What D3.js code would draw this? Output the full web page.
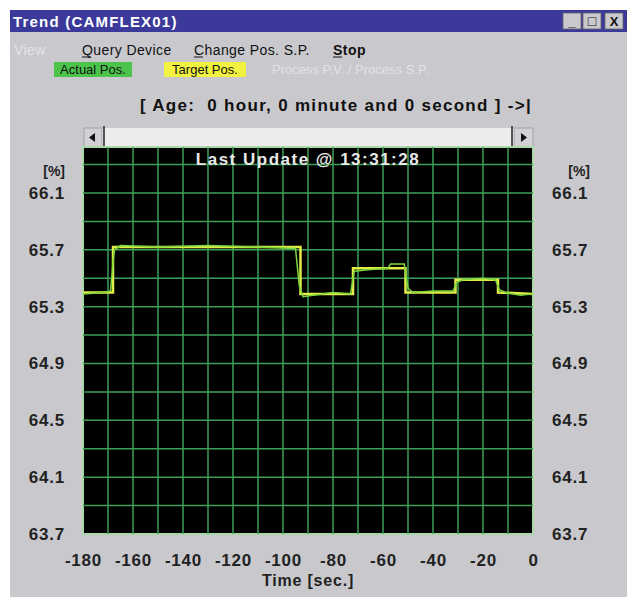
<!DOCTYPE html>
<html><head><meta charset="utf-8">
<script src="https://cdn.jsdelivr.net/npm/d3@7"></script>
<style>
html,body{margin:0;padding:0;background:#fff;}
svg{display:block;}
text{font-family:"Liberation Sans",Arial,sans-serif;}
</style></head>
<body>
<svg id="c" width="627" height="599"></svg>
<script>
// ---- data ----
const xTicks = [-180,-160,-140,-120,-100,-80,-60,-40,-20,0];
const yTicks = [66.1,65.7,65.3,64.9,64.5,64.1,63.7];
const targetT = [-180,-168,-168,-93,-93,-72,-72,-51,-51,-31,-31,-14,-14,0];
const targetV = [65.40,65.40,65.72,65.72,65.39,65.39,65.57,65.57,65.40,65.40,65.49,65.49,65.40,65.39];
const actualT = [-180,-172,-169,-167.5,-165,-150,-130,-110,-95,-93.5,-92,-88,-80,-73,-71.5,-66,-58,-57,-51.5,-50,-48,-40,-32,-30.5,-28,-20,-15,-13.5,-11,-5,0];
const actualV = [65.39,65.40,65.41,65.70,65.73,65.72,65.73,65.72,65.71,65.45,65.37,65.38,65.40,65.39,65.55,65.56,65.57,65.60,65.60,65.43,65.40,65.41,65.41,65.47,65.49,65.50,65.49,65.42,65.40,65.38,65.39];
const menuItems = ["View","Query Device","Change Pos. S.P.","Stop"];
const legendItems = ["Actual Pos.","Target Pos.","Process P.V. / Process S.P."];

const svg = d3.select("#c");
// window background
svg.append("rect").attr("x",10).attr("y",10).attr("width",617).attr("height",587).attr("fill","#c9c9cd");
// title bar
svg.append("rect").attr("x",10).attr("y",10).attr("width",617).attr("height",22).attr("fill","#3b3a9b");
svg.append("text").attr("x",13).attr("y",27).attr("fill","#fff").attr("font-weight","bold").attr("font-size",15).attr("letter-spacing",1.2).text("Trend (CAMFLEX01)");
// title buttons
[["_",563],["□",583],["X",605]].forEach(([s,bx])=>{
  svg.append("rect").attr("x",bx).attr("y",13).attr("width",18).attr("height",16).attr("fill","#c9c9cd").attr("stroke","#666").attr("stroke-width",0.8);
  svg.append("text").attr("x",bx+9).attr("y",26).attr("text-anchor","middle").attr("font-size",s==="□"?14:13).attr("font-weight","bold").attr("fill","#111").text(s);
});
// menu
const menuX=[14,82,194,333];
menuItems.forEach((m,i)=>{
  svg.append("text").attr("x",menuX[i]).attr("y",55).attr("font-size",14).attr("letter-spacing",i===3?0.5:0.4)
    .attr("fill", i===0?"#e4e4e8":"#111").attr("font-weight", i===3?"bold":"normal").text(m);
  if(i>0){
    svg.append("line").attr("x1",menuX[i]).attr("x2",menuX[i]+9).attr("y1",57).attr("y2",57).attr("stroke","#111").attr("stroke-width",1);
  }
});
// legend
const legX=[54,164,272], legW=[78,82,182], legBg=["#4cc44c","#f2f240",null];
legendItems.forEach((l,i)=>{
  if(legBg[i]) svg.append("rect").attr("x",legX[i]).attr("y",62).attr("width",legW[i]).attr("height",15).attr("fill",legBg[i]);
  svg.append("text").attr("x",legX[i]+(i<2?legW[i]/2:0)).attr("y",74).attr("text-anchor",i<2?"middle":"start").attr("font-size",13)
    .attr("fill",i<2?"#111":"#e2e2e6").text(l);
});
// age text
svg.append("text").attr("x",532).attr("y",111).attr("text-anchor","end").attr("font-size",17).attr("letter-spacing",1.3).attr("font-weight","bold").attr("fill","#111")
  .text("[ Age:  0 hour, 0 minute and 0 second ] ->|").attr("xml:space","preserve").style("white-space","pre");
// scrollbar
svg.append("rect").attr("x",84).attr("y",128).attr("width",449).attr("height",19).attr("fill","#ececee");
svg.append("rect").attr("x",84).attr("y",128).attr("width",18).attr("height",19).attr("fill","#d2d2d6").attr("stroke","#888").attr("stroke-width",0.6);
svg.append("rect").attr("x",514).attr("y",128).attr("width",19).attr("height",19).attr("fill","#d2d2d6").attr("stroke","#888").attr("stroke-width",0.6);
svg.append("line").attr("x1",104).attr("x2",104).attr("y1",126).attr("y2",148).attr("stroke","#222").attr("stroke-width",1.5);
svg.append("line").attr("x1",512).attr("x2",512).attr("y1",126).attr("y2",148).attr("stroke","#222").attr("stroke-width",1.5);
svg.append("path").attr("d","M89,137.5 L95,133 L95,142 Z").attr("fill","#111");
svg.append("path").attr("d","M527,137.5 L521,133 L521,142 Z").attr("fill","#111");

// plot
const X0=83,X1=533,Ytop=147,Ybot=534;
const x = d3.scaleLinear().domain([-180,0]).range([X0,X1]);
const y = d3.scaleLinear().domain([63.7,66.1]).range([Ybot,193]);
svg.append("rect").attr("x",X0).attr("y",Ytop).attr("width",X1-X0).attr("height",Ybot-Ytop).attr("fill","#000").attr("stroke","#a9d9a9").attr("stroke-width",2);
const g = svg.append("g");
const vgrid = d3.range(-170,0,10);
const hgrid = d3.range(63.9,66.35,0.2);
g.selectAll(".vg").data(vgrid).join("line").attr("x1",d=>x(d)).attr("x2",d=>x(d)).attr("y1",Ytop).attr("y2",Ybot).attr("stroke","#3e9e58").attr("stroke-width",1.5);
g.selectAll(".hg").data(hgrid).join("line").attr("x1",X0).attr("x2",X1).attr("y1",d=>y(d)).attr("y2",d=>y(d)).attr("stroke","#3e9e58").attr("stroke-width",1.5);

svg.append("text").attr("x",308).attr("y",165).attr("text-anchor","middle").attr("font-size",17).attr("letter-spacing",1.5).attr("font-weight","bold").attr("fill","#e8e8e8").text("Last Update @ 13:31:28");

const line = d3.line().x(d=>x(d[0])).y(d=>y(d[1]));
svg.append("path").datum(targetT.map((t,i)=>[t,targetV[i]])).attr("d",line).attr("fill","none").attr("stroke","#e4ec48").attr("stroke-width",2.5);
svg.append("path").datum(actualT.map((t,i)=>[t,actualV[i]])).attr("d",line).attr("fill","none").attr("stroke","#7cd83c").attr("stroke-width",1.5);

// axes
const axStyle = sel=>{sel.select(".domain").remove(); sel.selectAll("text").attr("font-size",17).attr("font-weight","bold").attr("letter-spacing",0.8).attr("fill","#222").attr("font-family","Liberation Sans, Arial, sans-serif");};
svg.append("g").attr("transform",`translate(${X0},0)`).call(d3.axisLeft(y).tickValues(yTicks).tickSize(0).tickPadding(18).tickFormat(d=>d.toFixed(1))).call(axStyle);
svg.append("g").attr("transform",`translate(${X1},0)`).call(d3.axisRight(y).tickValues(yTicks).tickSize(0).tickPadding(19).tickFormat(d=>d.toFixed(1))).call(axStyle);
svg.append("g").attr("transform",`translate(0,${Ybot})`).call(d3.axisBottom(x).tickValues(xTicks).tickSize(0).tickPadding(20).tickFormat(d=>String(d))).call(axStyle);
svg.append("text").attr("x",65).attr("y",176).attr("text-anchor","end").attr("font-size",14).attr("font-weight","bold").attr("fill","#222").text("[%]");
svg.append("text").attr("x",590).attr("y",176).attr("text-anchor","end").attr("font-size",14).attr("font-weight","bold").attr("fill","#222").text("[%]");
svg.append("text").attr("x",308).attr("y",586).attr("text-anchor","middle").attr("font-size",16).attr("letter-spacing",0.8).attr("font-weight","bold").attr("fill","#222").text("Time [sec.]");
</script>
</body></html>
